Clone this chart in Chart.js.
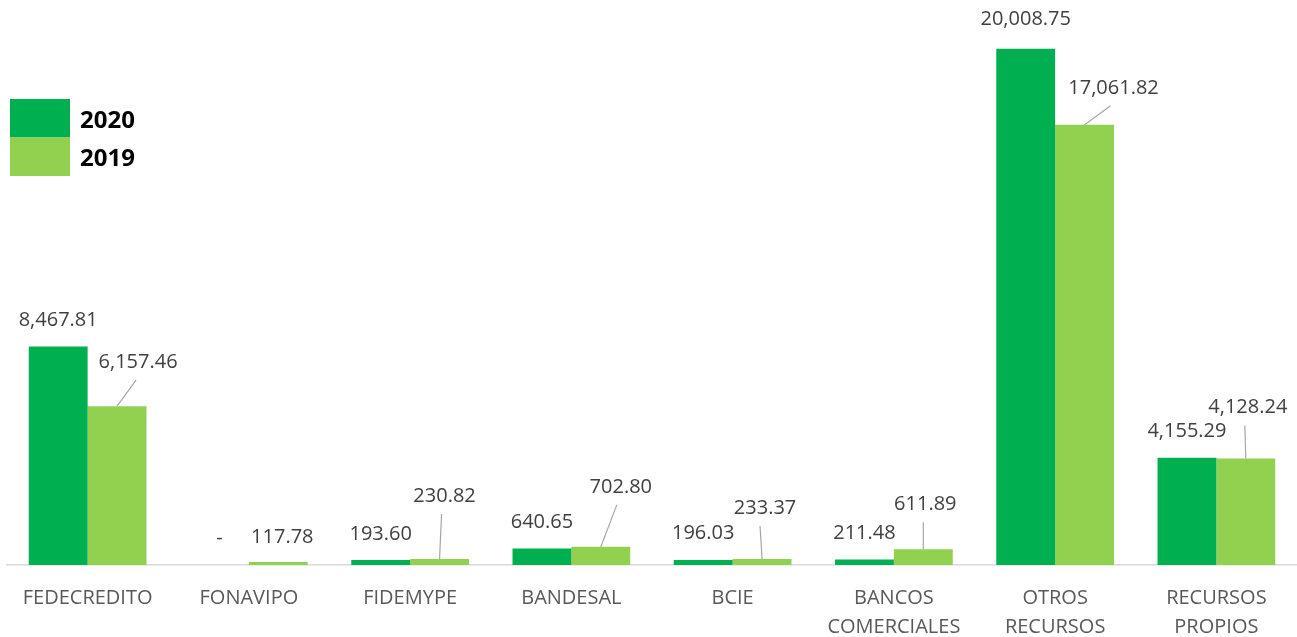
<!DOCTYPE html>
<html>
<head>
<meta charset="utf-8">
<script src="https://cdn.jsdelivr.net/npm/chart.js@4.4.1/dist/chart.umd.min.js"></script>
<style>
  html, body { margin: 0; padding: 0; background: #fff; }
  canvas { display: block; }
</style>
</head>
<body>
<canvas id="fundChart" width="1297" height="637"></canvas>
<script>
const categories = [['FEDECREDITO'], ['FONAVIPO'], ['FIDEMYPE'], ['BANDESAL'], ['BCIE'], ['BANCOS', 'COMERCIALES'], ['OTROS', 'RECURSOS'], ['RECURSOS', 'PROPIOS']];
const seriesNames = ['2020', '2019'];
const values2020 = [8467.81, 0, 193.60, 640.65, 196.03, 211.48, 20008.75, 4155.29];
const values2019 = [6157.46, 117.78, 230.82, 702.80, 233.37, 611.89, 17061.82, 4128.24];

const colors = ['#00B050', '#92D050'];
const labelFont = '20px "Open Sans"';

// where the data labels sit: [dx, lift above bar top, leader line end dx or null]
const labelPlace = [
  [[0, 26, null], [0, 27, null], [0, 26, null], [0, 26, null], [0, 27, null], [0, 26, null], [0, 29, null], [0, 27, null]],
  [[21, 44, -2], [4, 25, null], [5, 63, -3], [20, 60, -4], [3, 51, -5], [2, 45, -2], [29, 37, -3], [2, 51, -3]]
];

function fmt(v) {
  if (v === 0) return '-';
  return v.toLocaleString('en-US', { minimumFractionDigits: 2, maximumFractionDigits: 2 });
}

const valueLabels = {
  id: 'valueLabels',
  afterDatasetsDraw(chart) {
    const ctx = chart.ctx;
    ctx.save();
    ctx.font = labelFont;
    ctx.textAlign = 'center';
    ctx.textBaseline = 'middle';
    chart.data.datasets.forEach((ds, di) => {
      chart.getDatasetMeta(di).data.forEach((bar, i) => {
        const p = labelPlace[di][i];
        const lx = bar.x + p[0];
        const ly = bar.y - p[1];
        if (p[2] !== null) {
          ctx.strokeStyle = '#A6A6A6';
          ctx.lineWidth = 1.2;
          ctx.beginPath();
          ctx.moveTo(bar.x, bar.y);
          ctx.lineTo(lx + p[2], ly + 18);
          ctx.stroke();
        }
        ctx.fillStyle = '#404040';
        ctx.fillText(fmt(ds.data[i]), lx, ly);
      });
    });
    ctx.restore();
  }
};

const boxLegend = {
  id: 'boxLegend',
  afterDraw(chart) {
    const ctx = chart.ctx;
    ctx.save();
    ctx.font = 'bold 24px "Open Sans"';
    ctx.textBaseline = 'middle';
    ctx.textAlign = 'left';
    chart.data.datasets.forEach((ds, i) => {
      const top = 99 + i * 38.5;
      ctx.fillStyle = ds.backgroundColor;
      ctx.fillRect(10, top, 60, 38.5);
      ctx.fillStyle = '#000';
      ctx.fillText(ds.label, 80, top + 22);
    });
    ctx.restore();
  }
};

new Chart(document.getElementById('fundChart'), {
  type: 'bar',
  data: {
    labels: categories,
    datasets: [
      { label: seriesNames[0], data: values2020, backgroundColor: colors[0] },
      { label: seriesNames[1], data: values2019, backgroundColor: colors[1] }
    ]
  },
  options: {
    responsive: false,
    animation: false,
    layout: { padding: { left: 7, right: 0, top: 0, bottom: 0 } },
    datasets: { bar: { categoryPercentage: 0.73, barPercentage: 1.0, borderWidth: 0 } },
    plugins: { legend: { display: false }, tooltip: { enabled: false } },
    scales: {
      x: {
        grid: { display: false },
        border: { display: true, color: '#D9D9D9', width: 1.5 },
        ticks: { color: '#595959', font: { family: 'Open Sans', size: 20, lineHeight: 1.45 }, padding: 11, maxRotation: 0, autoSkip: false },
        afterFit(scale) { scale.height = 72; }
      },
      y: { display: false, min: 0, max: 21900 }
    }
  },
  plugins: [valueLabels, boxLegend]
});
</script>
</body>
</html>
